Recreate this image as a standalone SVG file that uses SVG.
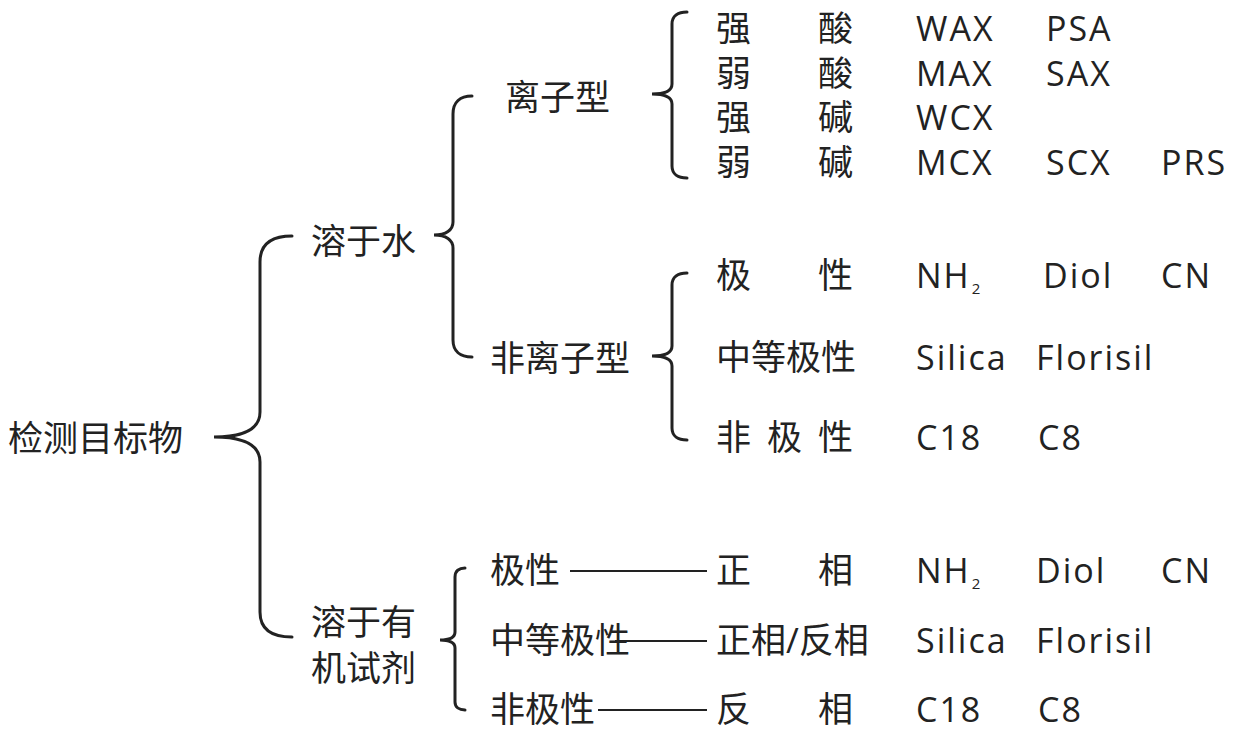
<svg xmlns="http://www.w3.org/2000/svg" width="1237" height="730" viewBox="0 0 1237 730">
<style>
text{font-family:"Open Sans","Noto Sans CJK SC",sans-serif;font-size:35px;fill:#222}
.l{font-size:34px;letter-spacing:2px}
.sub{font-size:15px;letter-spacing:0}
.br{fill:none;stroke:#222;stroke-width:3;stroke-linecap:round}
.ln{stroke:#222;stroke-width:2}
</style>
<rect width="1237" height="730" fill="#fff"/>
<g id="connectors">
<path class="br" d="M292,236 C272,236 260,244 260,262 L260,412 C260,428 246,437 214,437 C246,437 260,446 260,462 L260,612 C260,630 272,637 292,637"/>
<path class="br" d="M472,96 C460,96 453,102 453,114 L453,222 C453,230 446,235 434,235 C446,235 453,240 453,248 L453,340 C453,351 460,357 472,357"/>
<path class="br" d="M687,12 C678,12 672,16 672,24 L672,84 C672,90 666,94 652,94 C666,94 672,98 672,104 L672,166 C672,174 678,178 687,178"/>
<path class="br" d="M687,273 C678,273 672,277 672,285 L672,346 C672,352 666,356 652,356 C666,356 672,360 672,366 L672,428 C672,436 678,440 687,440"/>
<path class="br" d="M465,568 C459,568 455,571 455,577 L455,632 C455,637 451,640 440,640 C451,640 455,643 455,648 L455,702 C455,707 459,710 465,710"/>
<line class="ln" x1="570" y1="571" x2="707" y2="571"/>
<line class="ln" x1="615" y1="641" x2="707" y2="641"/>
<line class="ln" x1="598" y1="710" x2="707" y2="710"/>
</g>
<g id="root"><text x="8" y="451">检测目标物</text></g>
<g id="water"><text x="311" y="254">溶于水</text></g>
<g id="organic"><text x="311" y="635">溶于有</text><text x="311" y="681">机试剂</text></g>
<g id="ionic"><text x="505" y="110">离子型</text></g>
<g id="nonionic"><text x="490" y="371">非离子型</text></g>
<g id="ionic-items">
<text x="716" y="41">强</text><text x="818" y="41">酸</text><text class="l" x="916" y="41">WAX</text><text class="l" x="1046" y="41">PSA</text>
<text x="716" y="86">弱</text><text x="818" y="86">酸</text><text class="l" x="916" y="86">MAX</text><text class="l" x="1046" y="86">SAX</text>
<text x="716" y="130">强</text><text x="818" y="130">碱</text><text class="l" x="916" y="130">WCX</text>
<text x="716" y="175">弱</text><text x="818" y="175">碱</text><text class="l" x="916" y="175">MCX</text><text class="l" x="1046" y="175">SCX</text><text class="l" x="1161" y="175">PRS</text>
</g>
<g id="nonionic-items">
<text x="716" y="288">极</text><text x="818" y="288">性</text><text class="l" x="916" y="288">NH<tspan class="sub" dx="1" dy="6">2</tspan></text><text class="l" x="1043" y="288">Diol</text><text class="l" x="1161" y="288">CN</text>
<text x="716" y="370">中等极性</text><text class="l" x="916" y="370">Silica</text><text class="l" x="1036" y="370">Florisil</text>
<text x="716" y="450">非</text><text x="767" y="450">极</text><text x="818" y="450">性</text><text class="l" x="916" y="450">C18</text><text class="l" x="1038" y="450">C8</text>
</g>
<g id="organic-polar"><text x="490" y="583">极性</text></g>
<g id="organic-mid"><text x="490" y="653">中等极性</text></g>
<g id="organic-nonpolar"><text x="490" y="722">非极性</text></g>
<g id="organic-items">
<text x="716" y="583">正</text><text x="818" y="583">相</text><text class="l" x="916" y="583">NH<tspan class="sub" dx="1" dy="6">2</tspan></text><text class="l" x="1036" y="583">Diol</text><text class="l" x="1161" y="583">CN</text>
<text x="716" y="653">正相/反相</text><text class="l" x="916" y="653">Silica</text><text class="l" x="1036" y="653">Florisil</text>
<text x="716" y="722">反</text><text x="818" y="722">相</text><text class="l" x="916" y="722">C18</text><text class="l" x="1038" y="722">C8</text>
</g>
</svg>
